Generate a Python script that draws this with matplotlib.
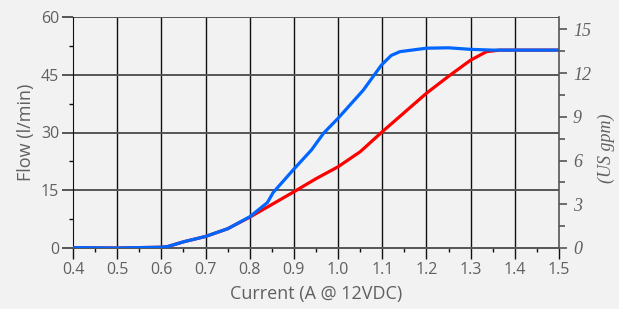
import matplotlib.pyplot as plt
import numpy as np

# data
blue_x = [0.40, 0.50, 0.60, 0.615, 0.65, 0.70, 0.75, 0.80, 0.84, 0.853, 0.90, 0.94,
          0.967, 1.00, 1.057, 1.098, 1.12, 1.14, 1.20, 1.25, 1.30, 1.35, 1.40, 1.50]
blue_y = [0.1, 0.0, 0.2, 0.4, 1.6, 3.0, 5.0, 8.1, 11.8, 14.4, 20.5, 25.5,
          29.8, 33.7, 41.0, 47.5, 50.0, 51.0, 51.9, 52.0, 51.6, 51.4, 51.4, 51.4]

red_x = [0.40, 0.50, 0.60, 0.615, 0.65, 0.70, 0.75, 0.80, 0.85, 0.90, 0.95, 1.00,
         1.05, 1.10, 1.15, 1.20, 1.25, 1.30, 1.336, 1.366, 1.40, 1.50]
red_y = [0.1, 0.0, 0.2, 0.4, 1.6, 3.0, 5.0, 8.0, 11.3, 14.6, 18.0, 21.1,
         25.0, 30.2, 35.2, 40.2, 44.6, 48.8, 51.0, 51.4, 51.4, 51.4]

x_ticks = [0.4, 0.5, 0.6, 0.7, 0.8, 0.9, 1.0, 1.1, 1.2, 1.3, 1.4, 1.5]
y_ticks = [0, 15, 30, 45, 60]
gpm_ticks = [0, 3, 6, 9, 12, 15]
LPM_PER_GPM = 3.785

plt.rcParams['font.family'] = ['Open Sans', 'DejaVu Sans']
bg = '#f2f2f2'
txt = '#606060'

fig = plt.figure(figsize=(6.19, 3.09), dpi=100, facecolor=bg)
ax = fig.add_axes([73 / 619, 61 / 309, 486 / 619, 231 / 309])
ax.set_facecolor(bg)

# grid: black verticals, gray horizontals
for xv in x_ticks[1:-1]:
    ax.axvline(xv, color='#111111', lw=1.0, zorder=1)
for yv in y_ticks[1:]:
    ax.axhline(yv, color='#555555', lw=1.4, zorder=1)

ax.plot(red_x, red_y, color='#ff0000', lw=2.3, zorder=3)
ax.plot(blue_x, blue_y, color='#0066ff', lw=2.3, zorder=4)

ax.set_xlim(0.4, 1.5)
ax.set_ylim(0, 60)
ax.set_xticks(x_ticks)
ax.set_xticklabels([f"{v:.1f}" for v in x_ticks])
ax.set_xticks(np.arange(0.45, 1.5, 0.1), minor=True)
ax.set_yticks(y_ticks)
ax.set_yticks([7.5, 22.5, 37.5, 52.5], minor=True)

ax.spines['top'].set_visible(False)
ax.spines['left'].set_color('#111111')
ax.spines['bottom'].set_color('#555555')
ax.spines['bottom'].set_linewidth(1.4)
ax.spines['right'].set_visible(False)

ax.tick_params(axis='x', which='major', length=8, width=1.0, color='#111111',
               labelsize=11.5, labelcolor=txt, pad=2)
ax.tick_params(axis='x', which='minor', length=3, width=1.0, color='#111111')
ax.tick_params(axis='y', which='major', length=8, width=1.4, color='#555555',
               labelsize=11.5, labelcolor=txt, pad=2)
ax.tick_params(axis='y', which='minor', length=3, width=1.0, color='#111111')

ax.set_xlabel("Current (A @ 12VDC)", fontsize=13, color=txt, labelpad=5)
ax.set_ylabel("Flow (l/min)", fontsize=13, color=txt, labelpad=4)

# secondary axis in US gpm
ax2 = ax.twinx()
ax2.set_ylim(0, 60 / LPM_PER_GPM)
ax2.set_yticks(gpm_ticks)
ax2.set_yticks(np.arange(1.5, 15, 3), minor=True)
for s in ['top', 'left', 'bottom']:
    ax2.spines[s].set_visible(False)
ax2.spines['right'].set_color('#555555')
ax2.spines['right'].set_linewidth(1.2)
ax2.tick_params(axis='y', which='major', length=6, width=1.2, color='#555555',
                labelsize=13, labelcolor=txt, pad=4)
ax2.tick_params(axis='y', which='minor', length=4, width=1.2, color='#555555')
for lab in ax2.get_yticklabels():
    lab.set_family('Liberation Serif')
    lab.set_style('italic')
ax2.set_ylabel("(US gpm)", fontsize=13, color=txt, family='Liberation Serif',
               style='italic')
ax2.yaxis.set_label_coords(1.08, 0.43)

fig.savefig('out.png', dpi=100, facecolor=bg)
